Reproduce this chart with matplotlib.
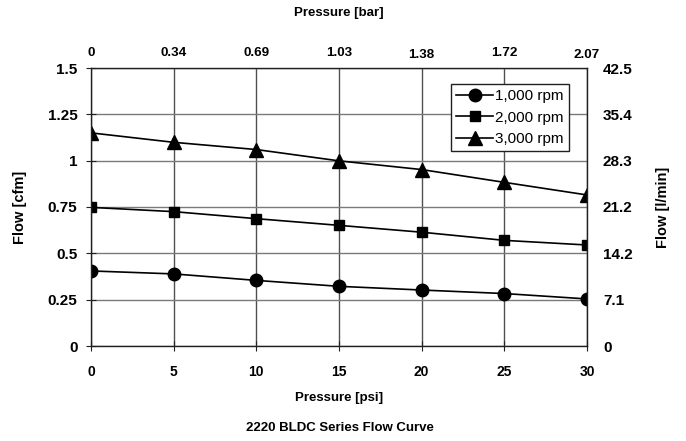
import matplotlib
matplotlib.use("Agg")
import matplotlib.pyplot as plt
from matplotlib.transforms import ScaledTranslation

plt.rcParams['font.family'] = ['Liberation Sans', 'DejaVu Sans']

psi = [0, 5, 10, 15, 20, 25, 30]
flow_1000 = [0.405, 0.389, 0.354, 0.322, 0.302, 0.283, 0.254]
flow_2000 = [0.748, 0.725, 0.687, 0.651, 0.614, 0.570, 0.545]
flow_3000 = [1.150, 1.099, 1.060, 0.999, 0.952, 0.883, 0.815]
series_labels = ["1,000 rpm", "2,000 rpm", "3,000 rpm"]

y_ticks = [0, 0.25, 0.5, 0.75, 1, 1.25, 1.5]
y_ticklabels = ["0", "0.25", "0.5", "0.75", "1", "1.25", "1.5"]
lmin_ticklabels = ["0", "7.1", "14.2", "21.2", "28.3", "35.4", "42.5"]
bar_ticklabels = ["0", "0.34", "0.69", "1.03", "1.38", "1.72", "2.07"]

W, H = 686, 441
fig = plt.figure(figsize=(W/100, H/100), dpi=100)
ax = fig.add_axes([91/W, 1-346/H, (587-91)/W, (346-68)/H])

ax.plot(psi, flow_1000, marker='o', markersize=9, color='black', lw=1.2, label=series_labels[0])
ax.plot(psi, flow_2000, marker='s', markersize=7.5, color='black', lw=1.2, label=series_labels[1])
ax.plot(psi, flow_3000, marker='^', markersize=9.5, color='black', lw=1.2, label=series_labels[2])

ax.set_xlim(0, 30)
ax.set_ylim(0, 1.5)
ax.set_xticks(psi)
ax.set_xticklabels([str(v) for v in psi])
ax.set_yticks(y_ticks)
ax.set_yticklabels(y_ticklabels)
ax.xaxis.grid(True, color='#505050', lw=1.0)
ax.yaxis.grid(True, color='#7a7a7a', lw=1.0)
ax.set_axisbelow(True)
for s in ax.spines.values():
    s.set_color('#202020')
    s.set_linewidth(1.0)
ax.tick_params(axis='both', direction='inout', length=6.5, color='#202020')
ax.tick_params(axis='x', labelsize=10, pad=10.3)
ax.tick_params(axis='y', labelsize=11, pad=6.5)
for lbl in ax.get_xticklabels() + ax.get_yticklabels():
    lbl.set_fontweight('bold')

axr = ax.twinx()
axr.set_ylim(0, 1.5)
axr.set_yticks(y_ticks)
axr.set_yticklabels(lmin_ticklabels, fontweight='bold')
axr.tick_params(labelsize=11, length=0, pad=11.5)

axt = ax.twiny()
axt.set_xlim(0, 30)
axt.set_xticks(psi)
axt.set_xticklabels(bar_ticklabels, fontweight='bold')
axt.tick_params(labelsize=9.7, length=0, pad=6.3)
for i, lbl in enumerate(axt.get_xticklabels()):
    if i in (4, 6):
        lbl.set_transform(lbl.get_transform() + ScaledTranslation(0, -2/100, fig.dpi_scale_trans))

for a in (axr, axt):
    for s in a.spines.values():
        s.set_visible(False)

leg = fig.legend(loc='upper left', bbox_to_anchor=(451/W, 1-84/H), fontsize=11,
                 frameon=True, fancybox=False, edgecolor='#202020', framealpha=1,
                 handlelength=2.4, borderpad=0.35, labelspacing=0.48, handletextpad=0.15,
                 borderaxespad=0)
leg.get_frame().set_linewidth(1.0)

fig.text(339/W, 1-13/H, "Pressure [bar]", ha='center', va='center', fontsize=9.5,
         fontweight='bold')
fig.text(339/W, 1-398/H, "Pressure [psi]", ha='center', va='center', fontsize=9.5,
         fontweight='bold')
fig.text(20/W, 1-207/H, "Flow [cfm]", ha='center', va='center', rotation=90, fontsize=10.5,
         fontweight='bold')
fig.text(663/W, 1-207/H, "Flow [l/min]", ha='center', va='center', rotation=90, fontsize=10.5,
         fontweight='bold')
fig.text(340/W, 1-428/H, "2220 BLDC Series Flow Curve", ha='center', va='center',
         fontsize=9.5, fontweight='bold')

fig.savefig("out.png", dpi=100)
